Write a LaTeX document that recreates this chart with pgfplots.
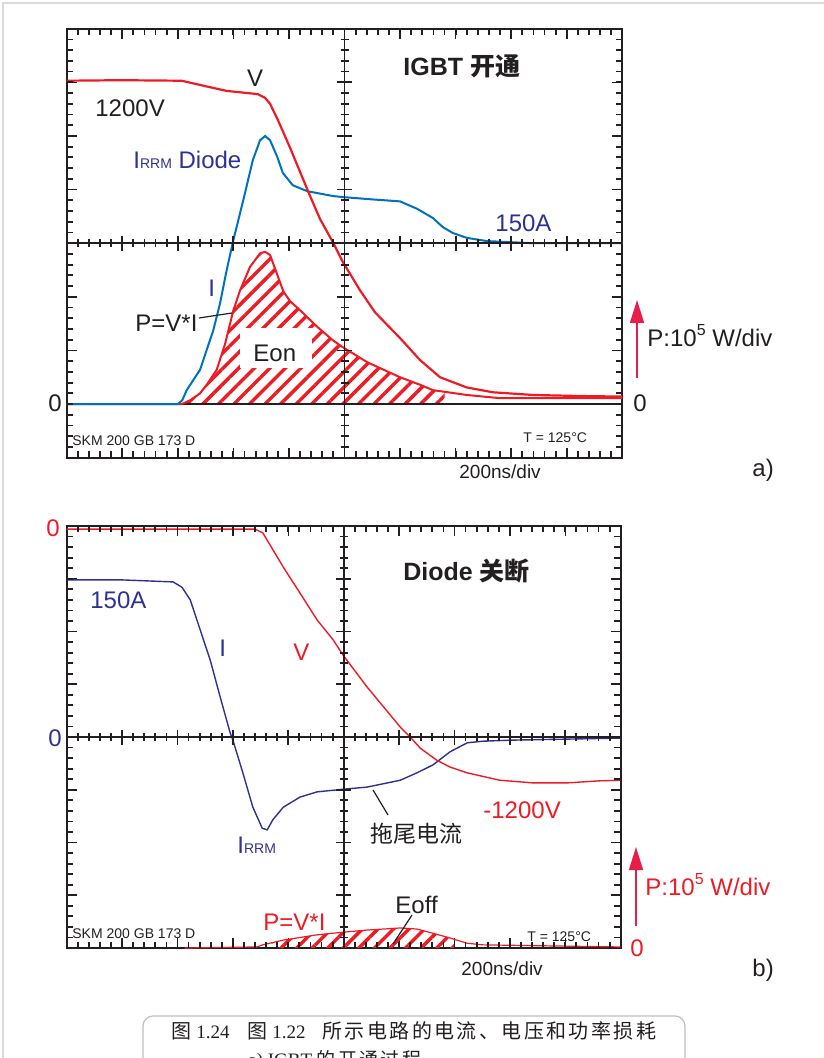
\documentclass[border=0pt]{standalone}
\usepackage{fontspec}
\setmainfont{Liberation Sans}
\newfontfamily\cjk{Noto Sans CJK SC}
\newfontfamily\cjkcap{Noto Sans CJK SC}[LetterSpace=12]
\newfontfamily\serifnum{Liberation Serif}
\usepackage{pgfplots}
\usepackage{pgfplotstable}
\pgfplotsset{compat=1.18}
\usepgfplotslibrary{fillbetween}
\usetikzlibrary{patterns.meta,arrows.meta}

\definecolor{vred}{RGB}{237,28,36}
\definecolor{ablue}{RGB}{0,114,188}
\definecolor{navy}{RGB}{46,49,146}
\definecolor{arrowred}{RGB}{232,30,72}
\definecolor{ink}{RGB}{35,31,32}

% ---------- panel a (units: divisions) ----------
\pgfplotstableread{
x y
0 7.03
0.96 7.04
2.07 7.03
2.49 6.93
2.88 6.84
3.44 6.78
3.57 6.71
3.66 6.60
3.80 6.30
4.02 5.78
4.20 5.33
4.38 4.88
4.56 4.45
4.79 4.02
4.97 3.65
5.28 3.12
5.55 2.71
6.00 2.23
6.36 1.82
6.72 1.50
7.20 1.31
7.67 1.22
8.39 1.17
9.24 1.15
10.0 1.14
}\Va

\pgfplotstableread{
x y
0 1.00
2.00 1.00
2.08 1.07
2.16 1.26
2.40 1.64
2.64 2.38
2.76 2.88
2.88 3.50
3.00 4.06
3.18 4.81
3.35 5.55
3.48 5.92
3.57 6.00
3.66 5.92
3.79 5.61
3.89 5.31
4.07 5.08
4.33 4.97
4.79 4.88
4.97 4.86
5.46 4.82
6.00 4.78
6.31 4.64
6.59 4.47
6.77 4.30
6.95 4.19
7.20 4.10
7.56 4.04
8.39 4.00
10.0 4.00
}\Ia

\pgfplotstableread{
x y
0 1.00
2.07 1.00
2.22 1.07
2.40 1.20
2.54 1.39
2.70 1.64
2.85 2.12
3.00 2.75
3.12 3.12
3.30 3.56
3.48 3.81
3.57 3.84
3.66 3.78
3.78 3.44
3.90 3.10
4.02 2.92
4.20 2.75
4.51 2.44
4.79 2.19
4.97 2.06
5.41 1.78
6.00 1.50
6.36 1.36
6.59 1.26
7.20 1.17
7.80 1.11
8.88 1.11
10.0 1.11
}\Pa

% ---------- panel b (units: divisions) ----------
\pgfplotstableread{
x y
0 7.94
3.40 7.94
3.54 7.87
3.91 7.22
4.21 6.73
4.52 6.22
4.81 5.84
4.99 5.55
5.42 4.95
6.02 4.19
6.20 4.00
6.38 3.79
6.68 3.56
6.92 3.43
7.23 3.32
7.82 3.18
8.42 3.13
9.03 3.13
9.63 3.17
10.0 3.18
}\Vb

\pgfplotstableread{
x y
0 6.98
0.96 6.98
1.92 6.94
2.08 6.84
2.23 6.60
2.41 6.03
2.59 5.46
2.77 4.76
2.95 4.08
3.00 3.94
3.18 3.32
3.36 2.67
3.53 2.27
3.62 2.24
3.72 2.43
3.91 2.67
4.21 2.86
4.52 2.96
4.99 3.01
5.42 3.05
6.02 3.18
6.32 3.32
6.61 3.47
6.92 3.72
7.23 3.89
7.51 3.92
8.00 3.94
9.03 3.96
10.0 3.98
}\Ib

\pgfplotstableread{
x y
2.13 0.00
3.43 0.02
3.54 0.06
3.91 0.15
4.52 0.25
4.99 0.30
5.42 0.34
6.02 0.38
6.32 0.36
6.61 0.28
6.92 0.19
7.23 0.09
7.51 0.06
8.72 0.04
10.0 0.02
}\Pb

\pgfplotsset{
  osc/.style={
    scale only axis,
    xmin=0, xmax=10, ymin=0, ymax=8,
    xtick={0,...,10}, ytick={0,...,8},
    xticklabels={}, yticklabels={},
    tick align=inside,
    major tick length=5pt,
    axis line style={ink, line width=1pt},
    every tick/.style={ink, line width=0.8pt},
  }
}

\begin{document}
\begin{tikzpicture}

% ================= panel a =================
\begin{axis}[osc, at={(33.35pt,-228.85pt)}, anchor=south west,
  width=277.8pt, height=214.5pt]
\addplot[draw=ink, line width=0.9pt, name path=Za] coordinates {(0,1) (10,1)};
\addplot[draw=none, name path=Pa] table[x=x,y=y] {\Pa};
\addplot[draw=none, pattern={Lines[angle=45,distance=5.5pt,line width=1.7pt]}, pattern color=vred]
  fill between[of=Pa and Za, soft clip={domain=2.0:6.8}];
\addplot[vred, line width=1pt] table[x=x,y=y] {\Pa};
\addplot[ablue, line width=1pt] table[x=x,y=y] {\Ia};
\addplot[vred, line width=1.1pt] table[x=x,y=y] {\Va};
\end{axis}

% ================= panel b =================
\begin{axis}[osc, at={(33.35pt,-474pt)}, anchor=south west,
  width=277pt, height=211pt]
\addplot[draw=none, name path=Zb] coordinates {(0,0) (10,0)};
\addplot[draw=none, name path=Pb] table[x=x,y=y] {\Pb};
\addplot[draw=none, pattern={Lines[angle=45,distance=5.5pt,line width=1.7pt]}, pattern color=vred]
  fill between[of=Pb and Zb, soft clip={domain=3.7:7.0}];
\addplot[vred, line width=0.6pt] table[x=x,y=y] {\Pb};
\addplot[navy, line width=0.7pt] table[x=x,y=y] {\Ib};
\addplot[vred, line width=0.7pt] table[x=x,y=y] {\Vb};
\end{axis}

\begin{scope}[x=0.5pt,y=-0.5pt,
  big/.style={font=\fontsize{12}{14}\selectfont, inner sep=0pt, anchor=base west},
  small/.style={font=\fontsize{7}{8}\selectfont, inner sep=0pt, anchor=base west, text=ink},
  mid/.style={font=\fontsize{9.5}{11}\selectfont, inner sep=0pt, anchor=base west, text=ink},
  ttl/.style={font=\fontsize{12.5}{14}\selectfont\bfseries, inner sep=0pt, anchor=base west, text=ink}]
\draw[black!14, line width=1pt] (3,1070) -- (3,3) -- (830,3);

% graticule, panel a: frame minor ticks and centre lines
\foreach \i in {1,...,49}{
  \pgfmathsetmacro\xx{66.7+\i*11.112}
  \pgfmathsetmacro\tlen{mod(\i,5)==0?7.5:4}
  \draw[ink, line width=0.9pt] (\xx,28.7) -- (\xx,35) (\xx,457.7) -- (\xx,451.4);
  \draw[ink, line width=0.9pt] (\xx,243.2-\tlen) -- (\xx,243.2+\tlen);
}
\foreach \i in {1,...,39}{
  \pgfmathsetmacro\yy{28.7+\i*10.725}
  \pgfmathsetmacro\tlen{mod(\i,5)==0?7.5:4}
  \draw[ink, line width=0.9pt] (66.7,\yy) -- (73,\yy) (622.3,\yy) -- (616,\yy);
  \draw[ink, line width=0.9pt] (344.5-\tlen,\yy) -- (344.5+\tlen,\yy);
}
\draw[ink, line width=0.9pt] (66.7,243.2) -- (622.3,243.2);
\draw[ink, line width=0.9pt] (344.5,28.7) -- (344.5,457.7);

\node[big, text=ink] at (246.7,86.7) {V};
\node[big, text=ink] at (95,116.7) {1200V};
\node[big, text=navy] at (133,168.3) {I{\fontsize{7}{8}\selectfont RRM} Diode};
\node[ttl] at (403,76) {IGBT {\cjk 开通}};
\node[big, text=navy] at (495,231.7) {150A};
\node[big, text=navy] at (208,296.7) {I};
\node[big, text=ink] at (135,331.7) {P=V*I};
\draw[ink, line width=0.6pt] (199,318) -- (232,313);
\fill[white] (240,328) rectangle (312,368);
\node[big, text=ink] at (253,361.7) {Eon};
\node[big, text=ink, anchor=base east] at (62,411.7) {0};
\node[big, text=ink] at (633,411.7) {0};
\node[small] at (72,445) {SKM 200 GB 173 D};
\node[small] at (523,442) {T = 125°C};
\draw[arrowred, line width=0.8pt, -{Triangle[length=11.5pt,width=7pt]}] (637,378) -- (637,300);
\node[big, text=ink] at (647,346.7) {P:10\raisebox{0.45em}{\fontsize{8}{9}\selectfont 5} W/div};
\node[mid] at (459,478) {200ns/div};
\node[big, text=ink] at (752,476) {a)};

% graticule, panel b: frame minor ticks and centre lines
\foreach \i in {1,...,49}{
  \pgfmathsetmacro\xx{66.7+\i*11.08}
  \pgfmathsetmacro\tlen{mod(\i,5)==0?7.5:4}
  \draw[ink, line width=0.9pt] (\xx,526) -- (\xx,532.3) (\xx,948) -- (\xx,941.7);
  \draw[ink, line width=0.9pt] (\xx,737-\tlen) -- (\xx,737+\tlen);
}
\foreach \i in {1,...,39}{
  \pgfmathsetmacro\yy{526+\i*10.55}
  \pgfmathsetmacro\tlen{mod(\i,5)==0?7.5:4}
  \draw[ink, line width=0.9pt] (66.7,\yy) -- (73,\yy) (620.7,\yy) -- (614.4,\yy);
  \draw[ink, line width=0.9pt] (343.7-\tlen,\yy) -- (343.7+\tlen,\yy);
}
\draw[ink, line width=0.9pt] (66.7,737) -- (620.7,737);
\draw[ink, line width=0.9pt] (343.7,526) -- (343.7,948);

\node[big, text=vred, anchor=base east] at (60,536.7) {0};
\node[big, text=navy] at (90,608) {150A};
\node[big, text=navy] at (219,656.7) {I};
\node[big, text=vred] at (293,660) {V};
\node[ttl] at (403,580) {Diode {\cjk 关断}};
\node[big, text=navy, anchor=base east] at (62,746.7) {0};
\node[big, text=navy] at (237,853) {I{\fontsize{7}{8}\selectfont RRM}};
\draw[ink, line width=0.6pt] (373,790) -- (388,815);
\node[text=ink, anchor=west, inner sep=0pt, font=\cjk\fontsize{11.5}{13}\selectfont] at (370,834) {拖尾电流};
\node[big, text=vred] at (483,818) {-1200V};
\node[big, text=ink] at (395,913) {Eoff};
\draw[ink, line width=0.6pt] (393,944) -- (412,915);
\node[big, text=vred] at (263,930) {P=V*I};
\node[small] at (72,938) {SKM 200 GB 173 D};
\node[small] at (527,941.7) {T = 125°C};
\draw[arrowred, line width=0.8pt, -{Triangle[length=11.5pt,width=7pt]}] (636,926) -- (636,847);
\node[big, text=vred] at (645,895) {P:10\raisebox{0.45em}{\fontsize{8}{9}\selectfont 5} W/div};
\node[big, text=vred] at (630,956.7) {0};
\node[mid] at (461,975) {200ns/div};
\node[big, text=ink] at (752,976) {b)};

% ================= caption =================
\draw[black!25, line width=0.6pt, rounded corners=5pt] (143,1100) -- (143,1016) -- (685,1016) -- (685,1100);
\node[anchor=base west, inner sep=0pt, text=ink, font=\cjk\fontsize{10}{12}\selectfont] at (171,1038) {图};
\node[anchor=base west, inner sep=0pt, text=ink, font=\serifnum\fontsize{9.5}{12}\selectfont] at (196,1038) {1.24};
\node[anchor=base west, inner sep=0pt, text=ink, font=\cjk\fontsize{10}{12}\selectfont] at (247,1038) {图};
\node[anchor=base west, inner sep=0pt, text=ink, font=\serifnum\fontsize{9.5}{12}\selectfont] at (272,1038) {1.22};
\node[anchor=base west, inner sep=0pt, text=ink, font=\cjkcap\fontsize{10}{12}\selectfont] at (322,1038) {所示电路的电流、电压和功率损耗};
\node[anchor=base west, inner sep=0pt, text=ink, font=\serifnum\fontsize{9.5}{12}\selectfont] at (248,1066) {a) IGBT {\cjkcap 的开通过程}};
\end{scope}
\pgfresetboundingbox
\path[use as bounding box] (0pt,0pt) rectangle (411.5pt,-529pt);
\end{tikzpicture}
\end{document}
